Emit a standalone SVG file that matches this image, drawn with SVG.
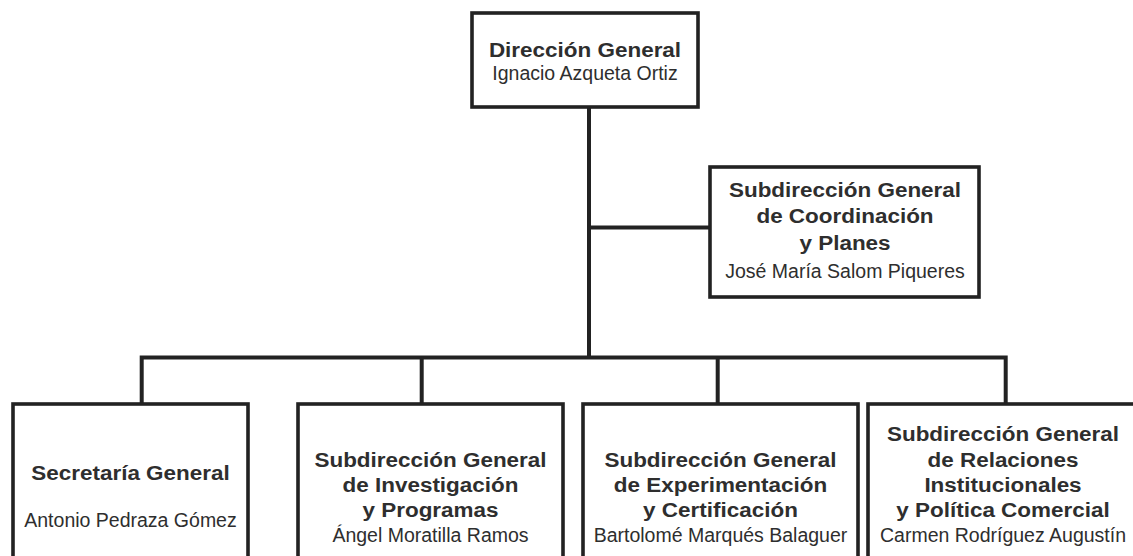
<svg xmlns="http://www.w3.org/2000/svg" width="1133" height="556" viewBox="0 0 1133 556">
<style>
.box{fill:#fff;stroke:#222;stroke-width:3.6}
.con{fill:none;stroke:#222;stroke-width:4;stroke-linejoin:miter;stroke-linecap:butt}
.b{font-family:"Liberation Sans",Arial,Helvetica,sans-serif;font-weight:bold;font-size:21px;fill:#2e2e2e;text-anchor:middle}
.r{font-family:"Liberation Sans",Arial,Helvetica,sans-serif;font-size:19.5px;fill:#2e2e2e;text-anchor:middle}
</style>
<rect width="1133" height="556" fill="#fff"/>
<g id="connectors">
<path class="con" d="M589,107 V357.5 M589,227.5 H710 M141.7,404 V357.5 H1005.7 V404 M421.7,357.5 V404 M717.7,357.5 V404"/>
</g>
<g id="direccion-general">
<rect class="box" x="472" y="13" width="226" height="94"/>
<text class="b" transform="matrix(1.07 0 0 1 585 0)" x="0" y="57.5">Dirección General</text>
<text class="r" x="585" y="79.5">Ignacio Azqueta Ortiz</text>
</g>
<g id="coordinacion">
<rect class="box" x="710" y="167" width="269" height="130"/>
<text class="b" transform="matrix(1.07 0 0 1 845 0)" x="0" y="197">Subdirección General</text>
<text class="b" transform="matrix(1.07 0 0 1 845 0)" x="0" y="223">de Coordinación</text>
<text class="b" transform="matrix(1.07 0 0 1 845 0)" x="0" y="250">y Planes</text>
<text class="r" x="845" y="278">José María Salom Piqueres</text>
</g>
<g id="secretaria">
<rect class="box" x="13" y="404" width="235" height="170"/>
<text class="b" transform="matrix(1.07 0 0 1 130.5 0)" x="0" y="480">Secretaría General</text>
<text class="r" x="130.5" y="526.5">Antonio Pedraza Gómez</text>
</g>
<g id="investigacion">
<rect class="box" x="298" y="404" width="265" height="170"/>
<text class="b" transform="matrix(1.07 0 0 1 430.5 0)" x="0" y="467">Subdirección General</text>
<text class="b" transform="matrix(1.07 0 0 1 430.5 0)" x="0" y="492">de Investigación</text>
<text class="b" transform="matrix(1.07 0 0 1 430.5 0)" x="0" y="517">y Programas</text>
<text class="r" x="430.5" y="542">Ángel Moratilla Ramos</text>
</g>
<g id="experimentacion">
<rect class="box" x="583" y="404" width="275" height="170"/>
<text class="b" transform="matrix(1.07 0 0 1 720.5 0)" x="0" y="467">Subdirección General</text>
<text class="b" transform="matrix(1.07 0 0 1 720.5 0)" x="0" y="492">de Experimentación</text>
<text class="b" transform="matrix(1.07 0 0 1 720.5 0)" x="0" y="517">y Certificación</text>
<text class="r" x="720.5" y="542">Bartolomé Marqués Balaguer</text>
</g>
<g id="relaciones">
<rect class="box" x="868" y="404" width="275" height="170"/>
<text class="b" transform="matrix(1.07 0 0 1 1003 0)" x="0" y="441">Subdirección General</text>
<text class="b" transform="matrix(1.07 0 0 1 1003 0)" x="0" y="467">de Relaciones</text>
<text class="b" transform="matrix(1.07 0 0 1 1003 0)" x="0" y="492">Institucionales</text>
<text class="b" transform="matrix(1.07 0 0 1 1003 0)" x="0" y="517.5">y Política Comercial</text>
<text class="r" x="1003" y="542">Carmen Rodríguez Augustín</text>
</g>
</svg>
